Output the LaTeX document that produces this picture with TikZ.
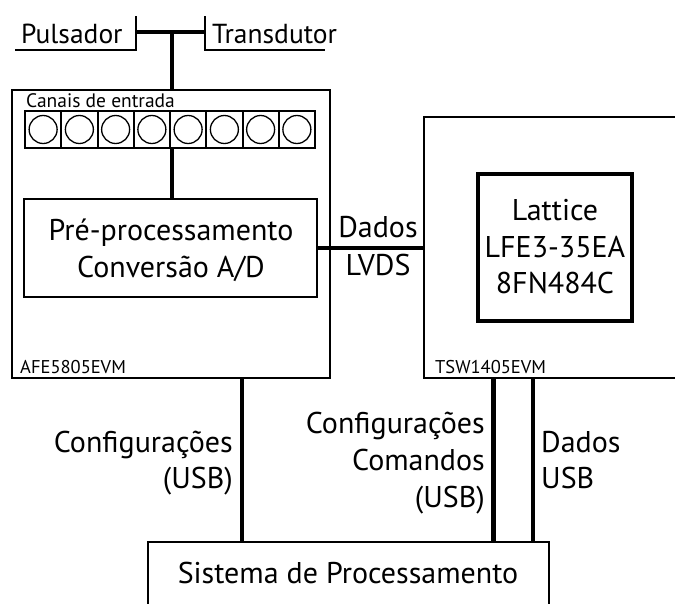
\documentclass[tikz,border=0pt]{standalone}
\usepackage{fontspec}
\setmainfont{PT Sans}
\begin{document}
\begin{tikzpicture}[x=1pt,y=-1pt,
  box/.style={draw,line width=2pt,inner sep=0pt,rectangle},
  conn/.style={line width=4.5pt},
  thinline/.style={line width=2pt},
  big/.style={font=\fontsize{30}{36}\selectfont},
  mid/.style={font=\fontsize{27.5}{32}\selectfont},
  small/.style={font=\fontsize{18.5}{22}\selectfont},
  lbl/.style={inner sep=0pt, anchor=base},
  lblw/.style={inner sep=0pt, anchor=base west},
  lble/.style={inner sep=0pt, anchor=base east}]
\useasboundingbox (0,0) rectangle (675,603);

% boxes
\node[box, minimum width=318pt, minimum height=288pt] (afe) at (171,234) {};
\node[box, minimum width=296pt, minimum height=261pt] (tsw) at (572,247.5) {};
\node[box, line width=4pt, minimum width=154pt, minimum height=147pt] (lat) at (555,247.5) {};
\node[box, minimum width=293pt, minimum height=98pt] (pre) at (170.5,248) {};
\node[box, minimum width=401pt, minimum height=98pt] (sis) at (348.5,591) {};
\node[box, minimum width=290pt, minimum height=37pt] (strip) at (170,129.5) {};
\foreach \i in {0,...,7}{
  \node[box, minimum width=36.25pt, minimum height=37pt] (cell\i) at ({25+36.25*(\i+0.5)},129.5) {};
  \node[draw, circle, line width=1.3pt, minimum size=28pt, inner sep=0pt] (ch\i) at (cell\i) {};
}

% top connectors
\coordinate (hub) at (172,32);
\coordinate (pl) at (136,32);
\coordinate (tr) at (205,32);
\coordinate (pt) at (136,16);
\coordinate (pb) at (136,50);
\coordinate (pe) at (15,50);
\coordinate (tt) at (205,16);
\coordinate (tb) at (205,50);
\coordinate (te) at (325,50);
\draw[thinline] (pt) -- (pb) -- (pe);
\draw[thinline] (tt) -- (tb) -- (te);
\draw[conn] (pl) -- (tr);
\draw[conn] (hub) -- (hub |- afe.north);
\draw[conn] (hub |- strip.south) -- (hub |- pre.north);
\draw[conn] (pre.east) -- (pre.east -| tsw.west);

% bottom connectors
\coordinate (xa) at (242,0);
\coordinate (xb) at (493.5,0);
\coordinate (xc) at (533,0);
\draw[conn] (xa |- afe.south) -- (xa |- sis.north);
\draw[conn] (xb |- tsw.south) -- (xb |- sis.north);
\draw[conn] (xc |- tsw.south) -- (xc |- sis.north);

% labels
\node[lblw, mid] (tpul) at (21,43) {Pulsador};
\node[lblw, mid] (ttra) at (212,43) {Transdutor};
\node[lblw, small, font=\fontsize{19.5}{22}\selectfont] (tcan) at (26,107) {Canais de entrada};
\node[lblw, small] (tafe) at (20,373) {AFE5805EVM};
\node[lblw, small] (ttsw) at (435,373) {TSW1405EVM};
\node[lbl, big] (tpre1) at (171,240) {Pré-processamento};
\node[lbl, big] (tpre2) at (171,277) {Conversão A/D};
\node[lbl, big] (tdad1) at (378,237) {Dados};
\node[lbl, big] (tdad2) at (378,275) {LVDS};
\node[lbl, big] (tlat1) at (555,220) {Lattice};
\node[lbl, big] (tlat2) at (555,257) {LFE3-35EA};
\node[lbl, big] (tlat3) at (555,293) {8FN484C};
\node[lble, big] (tcf1) at (233,452) {Configurações};
\node[lble, big] (tcf2) at (233,488) {(USB)};
\node[lble, big] (tcc1) at (485,433) {Configurações};
\node[lble, big] (tcc2) at (485,470) {Comandos};
\node[lble, big] (tcc3) at (485,507) {(USB)};
\node[lblw, big] (tdu1) at (541,452) {Dados};
\node[lblw, big] (tdu2) at (541,488) {USB};
\node[lbl, big] (tsis) at (348,583) {Sistema de Processamento};
\end{tikzpicture}
\end{document}
